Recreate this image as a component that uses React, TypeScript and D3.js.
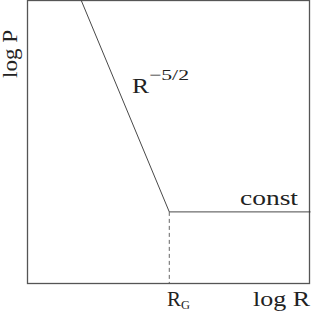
import React from "react";
import * as d3 from "d3";

const logR = [0.19, 0.501, 1.0];
const logP = [1.0, 0.253, 0.253];
const rG = 0.501;

export default function App() {
  const W = 311, H = 312;
  const x = d3.scaleLinear().domain([0, 1]).range([27.5, 310.5]);
  const y = d3.scaleLinear().domain([0, 1]).range([283.5, 0.5]);
  const line = d3.line<number>().x((d, i) => x(logR[i])).y((d) => y(d));
  const font = "'Liberation Serif', 'DejaVu Serif', serif";
  const adj = "spacingAndGlyphs";
  return (
    <svg width={W} height={H} style={{ position: "absolute", left: 0, top: 0, background: "#fff" }}>
      <rect x={x(0)} y={y(1)} width={x(1) - x(0) - 1} height={y(0) - y(1)} fill="none" stroke="#555" strokeWidth={1.3} />
      <path d={line(logP) || ""} fill="none" stroke="#333" strokeWidth={0.9} />
      <line x1={x(rG)} x2={x(rG)} y1={y(logP[1])} y2={y(0)} stroke="#555" strokeWidth={0.9} strokeDasharray="4,3" />
      <text transform="translate(17,54) rotate(-90)" fontFamily={font} fontSize={20} textAnchor="middle" textLength={48} lengthAdjust={adj} fill="#222">log P</text>
      <text x={132} y={93} fontFamily={font} fontSize={20} fill="#222" textLength={17} lengthAdjust={adj}>R</text>
      <text x={149} y={80} fontFamily={font} fontSize={15} fill="#222" textLength={40} lengthAdjust={adj}>−5/2</text>
      <text x={240} y={205} fontFamily={font} fontSize={20} fill="#222" textLength={58} lengthAdjust={adj}>const</text>
      <text x={167} y={306} fontFamily={font} fontSize={20} fill="#222" textLength={14} lengthAdjust={adj}>R</text>
      <text x={181} y={309} fontFamily={font} fontSize={13} fill="#222" textLength={9} lengthAdjust={adj}>G</text>
      <text x={253} y={306} fontFamily={font} fontSize={20} fill="#222" textLength={57} lengthAdjust={adj}>log R</text>
    </svg>
  );
}
